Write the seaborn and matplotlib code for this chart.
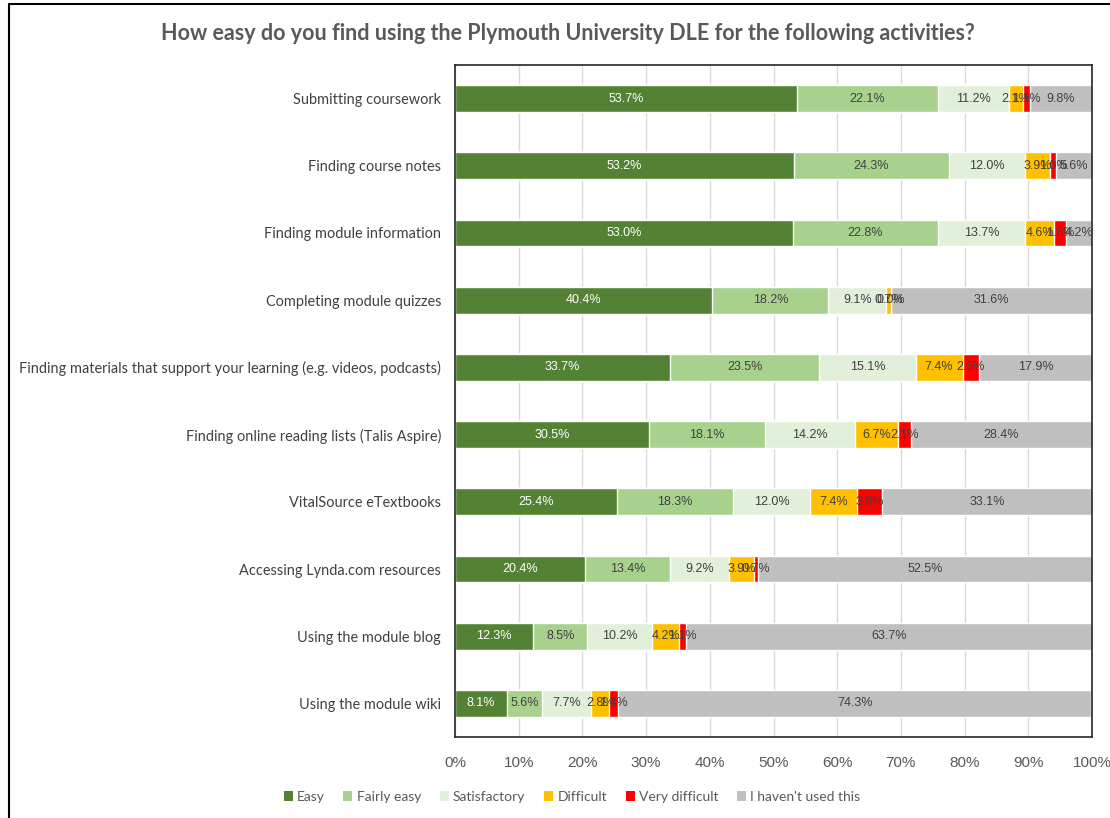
import numpy as np
import pandas as pd
import seaborn as sns
import matplotlib.pyplot as plt
from matplotlib.patches import Patch
from matplotlib.lines import Line2D

activities = [
    'Submitting coursework',
    'Finding course notes',
    'Finding module information',
    'Completing module quizzes',
    'Finding materials that support your learning (e.g. videos, podcasts)',
    'Finding online reading lists (Talis Aspire)',
    'VitalSource eTextbooks',
    'Accessing Lynda.com resources',
    'Using the module blog',
    'Using the module wiki',
]
responses = ['Easy', 'Fairly easy', 'Satisfactory', 'Difficult', 'Very difficult', "I haven't used this"]

easy = [53.7, 53.2, 53.0, 40.4, 33.7, 30.5, 25.4, 20.4, 12.3, 8.1]
fairly_easy = [22.1, 24.3, 22.8, 18.2, 23.5, 18.1, 18.3, 13.4, 8.5, 5.6]
satisfactory = [11.2, 12.0, 13.7, 9.1, 15.1, 14.2, 12.0, 9.2, 10.2, 7.7]
difficult = [2.1, 3.9, 4.6, 0.7, 7.4, 6.7, 7.4, 3.9, 4.2, 2.8]
very_difficult = [1.1, 1.0, 1.8, 0.0, 2.5, 2.1, 3.9, 0.7, 1.1, 1.4]
not_used = [9.8, 5.6, 4.2, 31.6, 17.9, 28.4, 33.1, 52.5, 63.7, 74.3]

colors = ['#548235', '#A9D18E', '#E2EFDA', '#FFC000', '#FF0000', '#BFBFBF']
label_colors = ['white', '#404040', '#404040', '#404040', '#404040', '#404040']

df = pd.DataFrame({
    'Activity': activities,
    'Easy': easy,
    'Fairly easy': fairly_easy,
    'Satisfactory': satisfactory,
    'Difficult': difficult,
    'Very difficult': very_difficult,
    "I haven't used this": not_used,
})
cum = df[responses].cumsum(axis=1)

sns.set_style('white')
plt.rcParams['font.family'] = ['Lato', 'DejaVu Sans']

fig = plt.figure(figsize=(11.1, 8.18), dpi=100)
ax = fig.add_axes([455 / 1110, 1 - 737 / 818, 637 / 1110, 672 / 818])

# stacked bars: draw cumulative totals from the widest down
for j in range(len(responses) - 1, -1, -1):
    sns.barplot(x=cum[responses[j]].clip(upper=100), y=df['Activity'], color=colors[j],
                width=0.4, orient='h', ax=ax, saturation=1, zorder=2)

# value labels in the middle of each segment
for i in range(len(activities)):
    left = 0
    for j, r in enumerate(responses):
        v = df.loc[i, r]
        ax.text(left + v / 2, i, f'{v:.1f}%', ha='center', va='center',
                fontsize=9, color=label_colors[j], family='Liberation Sans', zorder=3)
        left += v

ax.set_xlim(0, 100)
ax.set_ylim(9.5, -0.5)
ax.set_xticks(np.arange(0, 101, 10))
ax.set_xticklabels([f'{t}%' for t in range(0, 101, 10)], family='Liberation Sans',
                   fontsize=11, color='#595959')
ax.tick_params(axis='x', length=0, pad=14)
ax.tick_params(axis='y', length=0, pad=10)
for lab in ax.get_yticklabels():
    lab.set_fontsize(10.45)
    lab.set_color('#404040')
ax.set_xlabel('')
ax.set_ylabel('')
ax.grid(axis='x', color='#D9D9D9', linewidth=1, zorder=0)
ax.set_axisbelow(True)
for s in ax.spines.values():
    s.set_visible(True)
    s.set_color('#262626')
    s.set_linewidth(1.2)

fig.suptitle('How easy do you find using the Plymouth University DLE for the following activities?',
             x=568 / 1110, y=1 - 33 / 818, va='center', fontsize=15.5, fontweight='bold', color='#595959')

handles = [Patch(facecolor=c, edgecolor='none') for c in colors]
fig.legend(handles, responses, loc='center', bbox_to_anchor=(572 / 1110, 1 - 797 / 818),
           ncol=6, frameon=False, handlelength=0.65, handleheight=0.65, handletextpad=0.3,
           columnspacing=1.35, prop={'size': 10}, labelcolor='#595959')

# outer chart border (cut off on the right and bottom)
fig.add_artist(Line2D([9 / 1110, 9 / 1110], [0, 1 - 4 / 818], color='black', linewidth=1.5))
fig.add_artist(Line2D([9 / 1110, 1], [1 - 4 / 818, 1 - 4 / 818], color='black', linewidth=1.5))

fig.savefig('out.png', dpi=100)
